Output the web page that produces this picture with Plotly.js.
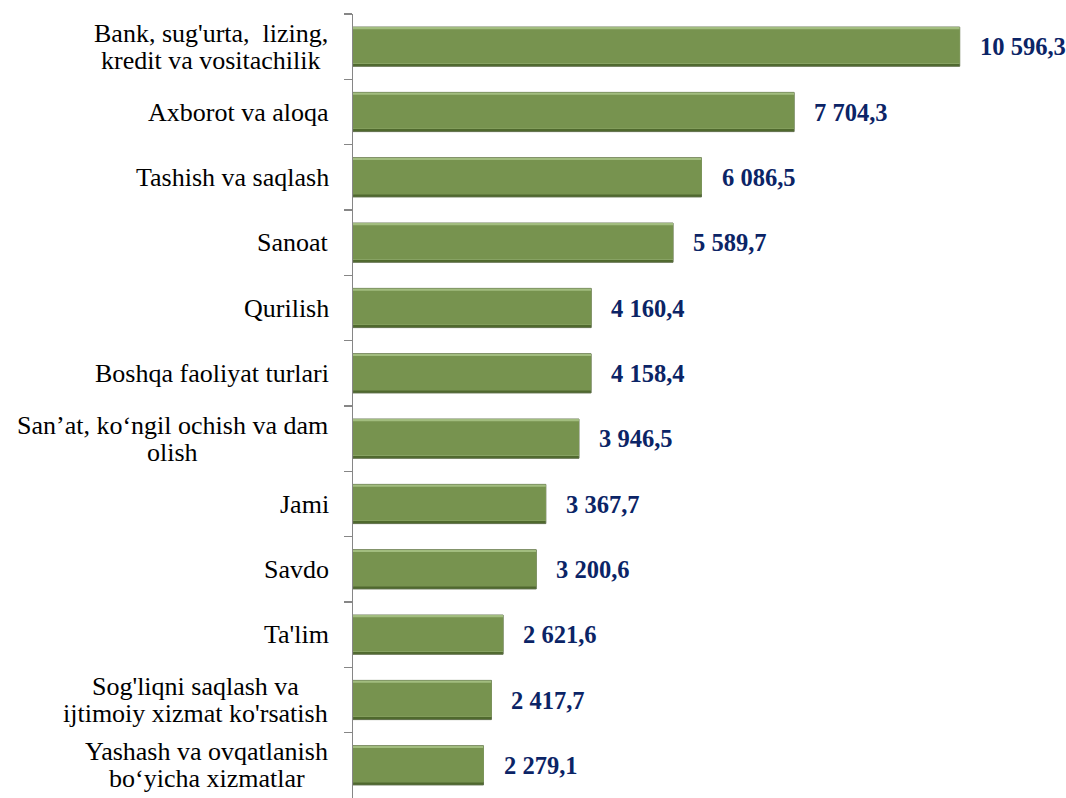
<!DOCTYPE html>
<html>
<head>
<meta charset="utf-8">
<script src="https://cdn.plot.ly/plotly-3.0.1.min.js"></script>
<style>html,body{margin:0;padding:0;background:#fff;}#chart{width:1066px;height:798px;}</style>
</head>
<body>
<div id="chart"></div>
<script>
const categories = [
  "Bank, sug'urta,  lizing,<br>kredit va vositachilik",
  "Axborot va aloqa",
  "Tashish va saqlash",
  "Sanoat",
  "Qurilish",
  "Boshqa faoliyat turlari",
  "San’at, ko‘ngil ochish va dam<br>olish",
  "Jami",
  "Savdo",
  "Ta'lim",
  "Sog'liqni saqlash va<br>ijtimoiy xizmat ko'rsatish",
  "Yashash va ovqatlanish<br>bo‘yicha xizmatlar"
];
const values = [10596.3, 7704.3, 6086.5, 5589.7, 4160.4, 4158.4, 3946.5, 3367.7, 3200.6, 2621.6, 2417.7, 2279.1];
const valueLabels = ["10 596,3", "7 704,3", "6 086,5", "5 589,7", "4 160,4", "4 158,4", "3 946,5", "3 367,7", "3 200,6", "2 621,6", "2 417,7", "2 279,1"];

const serif = "Liberation Serif";
const catSize = 26;
const valSize = 24.5;

function barLayer(color, width, offset, line) {
  return {
    type: 'bar', orientation: 'h',
    y: categories, x: values,
    width: width, offset: offset,
    marker: { color: color, line: line || { width: 0 } },
    hoverinfo: 'skip'
  };
}

const traces = [
  barLayer('#4f692d', 0.6, -0.3, { color: '#5f6f4a', width: 1 }),
  barLayer('#a2bd7f', 0.56, -0.3),
  barLayer('#77934f', 0.52, -0.265)
];

const ctx = document.createElement('canvas').getContext('2d');
ctx.font = catSize + "px 'Liberation Serif'";

const annotations = [];
values.forEach((v, i) => {
  annotations.push({
    x: v, y: categories[i], xref: 'x', yref: 'y',
    text: valueLabels[i], showarrow: false,
    xanchor: 'left', xshift: 18,
    font: { family: serif, size: valSize, color: '#0b2466', weight: 'bold' }
  });
  const lines = categories[i].split('<br>');
  if (lines.length === 1) {
    annotations.push({
      x: 0, y: categories[i], xref: 'paper', yref: 'y',
      text: lines[0], showarrow: false,
      xanchor: 'right', xshift: -22,
      font: { family: serif, size: catSize, color: '#000' }
    });
  } else {
    const w = Math.max(...lines.map(s => ctx.measureText(s).width));
    const lineGap = 27;
    lines.forEach((s, k) => {
      annotations.push({
        x: 0, y: categories[i], xref: 'paper', yref: 'y',
        text: s, showarrow: false,
        xanchor: 'center', xshift: -25 - w / 2,
        yshift: ((lines.length - 1) / 2 - k) * lineGap,
        font: { family: serif, size: catSize, color: '#000' }
      });
    });
  }
});

const layout = {
  width: 1066, height: 798,
  margin: { l: 353, r: 3, t: 14, b: 0 },
  paper_bgcolor: '#fff', plot_bgcolor: '#fff',
  showlegend: false,
  barmode: 'overlay',
  xaxis: { range: [0, 12400], visible: false, fixedrange: true },
  yaxis: {
    type: 'category',
    autorange: 'reversed',
    showticklabels: false,
    ticks: 'outside', ticklen: 8, tickwidth: 1.3, tickcolor: '#868686',
    tickson: 'boundaries',
    showline: true, linecolor: '#868686', linewidth: 1.3,
    showgrid: false, zeroline: false
  },
  annotations: annotations
};

Plotly.newPlot('chart', traces, layout, { displayModeBar: false, staticPlot: true });
</script>
</body>
</html>
